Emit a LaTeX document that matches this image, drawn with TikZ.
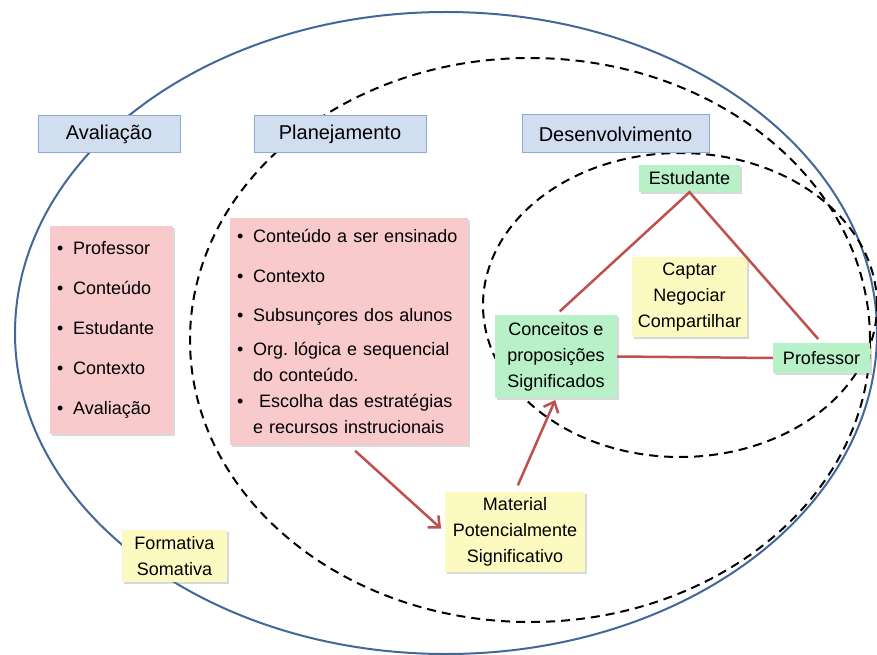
\documentclass[tikz,border=0pt]{standalone}
\usepackage{fontspec}
\setmainfont{Liberation Sans}
\usetikzlibrary{shadows,arrows.meta}
\definecolor{hdrfill}{RGB}{209,222,240}
\definecolor{hdrline}{RGB}{140,170,212}
\definecolor{pinkfill}{RGB}{248,202,204}
\definecolor{greenfill}{RGB}{184,240,200}
\definecolor{yellowfill}{RGB}{252,250,192}
\definecolor{linkred}{RGB}{192,80,77}
\definecolor{ringblue}{RGB}{66,103,152}
\newcommand{\litem}{\makebox[16pt][l]{\textbullet}}
\newcommand{\lcont}{\hspace*{16pt}}

\begin{document}
\begin{tikzpicture}[x=1pt,y=-1pt,
  header/.style={draw=hdrline,fill=hdrfill,line width=1pt,inner sep=0pt,align=center,font=\fontsize{20}{24}\selectfont},
  shadebox/.style={inner sep=0pt,align=center,font=\fontsize{18}{26}\selectfont,drop shadow={shadow xshift=1.5pt,shadow yshift=-2pt,opacity=0.3}},
  greenbox/.style={shadebox,fill=greenfill},
  yellowbox/.style={shadebox,fill=yellowfill},
  listbox/.style={shadebox,fill=pinkfill,anchor=north west,inner xsep=7pt,align=left},
  ring/.style={line width=2pt},
  dashring/.style={ring,dash pattern=on 9pt off 6pt},
  link/.style={draw=linkred,line width=2.5pt},
  flow/.style={link,-{Straight Barb[length=9pt,width=16pt]}}]
\useasboundingbox (0,0) rectangle (877,655);
\draw[ring,ringblue] (446,333) ellipse [x radius=431pt,y radius=321pt];
\draw[dashring] (530,340) ellipse [x radius=340pt,y radius=282pt];
\draw[dashring] (680,305) ellipse [x radius=197pt,y radius=152pt];

\node[header,minimum width=142pt,minimum height=37pt] (aval) at (109,134.5) {Avaliação};
\node[header,minimum width=172pt,minimum height=37pt] (plan) at (340,134.5) {Planejamento};
\node[header,minimum width=187pt,minimum height=38pt] (desv) at (615.5,134) {Desenvolvimento};

\node[listbox,text width=109pt,minimum height=208pt] (alist) at (50,226)
  {\litem Professor\\[14pt]
   \litem Conteúdo\\[14pt]
   \litem Estudante\\[14pt]
   \litem Contexto\\[14pt]
   \litem Avaliação};
\node[listbox,text width=224pt,minimum height=227pt] (plist) at (230,218)
  {\litem Conteúdo a ser ensinado\\[14pt]
   \litem Contexto\\[13pt]
   \litem Subsunçores dos alunos\\[8pt]
   \litem Org.\ lógica e sequencial\\
   \lcont do conteúdo.\\
   \litem\ Escolha das estratégias\\
   \lcont e recursos instrucionais};

\node[greenbox,minimum width=101pt,minimum height=27pt] (est) at (689.5,178.5) {Estudante};
\node[greenbox,minimum width=122pt,minimum height=83pt] (conc) at (556,356.5) {Conceitos e\\proposições\\Significados};
\node[greenbox,minimum width=97pt,minimum height=30pt] (prof) at (821.5,358) {Professor};
\node[yellowbox,minimum width=115pt,minimum height=80pt] (capt) at (689.5,297) {Captar\\Negociar\\Compartilhar};
\node[yellowbox,minimum width=140pt,minimum height=80pt] (mat) at (515,532) {Material\\Potencialmente\\Significativo};
\node[yellowbox,minimum width=105pt,minimum height=52pt] (form) at (174.5,556) {Formativa\\Somativa};

\draw[link,shorten <=5pt,shorten >=5pt] (conc.north) -- (est.south) -- (prof.north);
\draw[link] (conc.east) -- (prof.west);
\draw[flow,shorten <=8pt,shorten >=5pt] (plist.south) -- (mat.west);
\draw[flow,shorten <=7pt,shorten >=2pt] (mat.north) -- (conc.south);
\end{tikzpicture}
\end{document}
